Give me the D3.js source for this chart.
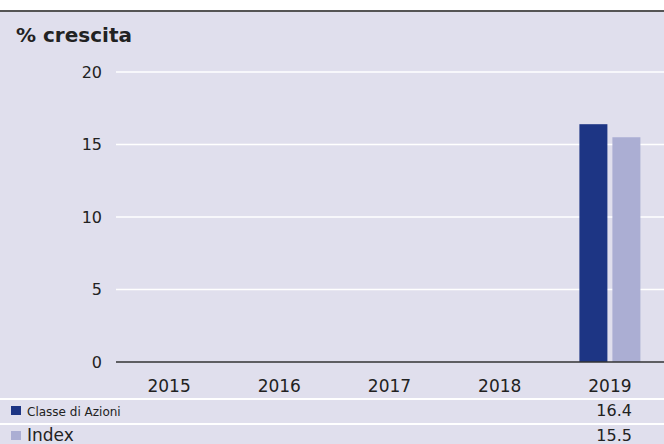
<!DOCTYPE html>
<html lang="it">
<head>
<meta charset="UTF-8">
<title>% crescita</title>
<style>
    body { margin: 0; background: #ffffff; font-family: "DejaVu Sans", Verdana, sans-serif; }
    svg { display: block; }
</style>
</head>
<body>
<svg width="664" height="444"></svg>
<script src="https://d3js.org/d3.v7.min.js"></script>
<script>
// dati
const years = ["2015", "2016", "2017", "2018", "2019"];
const classeValues = [null, null, null, null, 16.4];
const indexValues = [null, null, null, null, 15.5];
const seriesNames = ["Classe di Azioni", "Index"];
const seriesColors = ["#1d3584", "#abaed3"];
const yTicks = [0, 5, 10, 15, 20];

const W = 664, H = 444;
const svg = d3.select("svg");

// sfondo e bordo superiore
svg.append("rect").attr("x", 0).attr("y", 12).attr("width", W).attr("height", H - 12).attr("fill", "#e0dfed");
svg.append("line").attr("x1", 0).attr("x2", W).attr("y1", 11).attr("y2", 11)
    .attr("stroke", "#555").attr("stroke-width", 2);

svg.append("text").attr("x", 16).attr("y", 42)
    .attr("font-size", 20).attr("font-weight", "bold").attr("fill", "#222")
    .text("% crescita");

// scale
const x = d3.scaleBand().domain(years).range([114, 665]);
const y = d3.scaleLinear().domain([0, 20]).range([362, 72]);

// griglia
svg.append("g").selectAll("line").data(yTicks.filter(d => d > 0)).join("line")
    .attr("x1", 116).attr("x2", W)
    .attr("y1", d => y(d)).attr("y2", d => y(d))
    .attr("stroke", "#ffffff").attr("stroke-width", 1.5);

// etichette asse y
svg.append("g").selectAll("text").data(yTicks).join("text")
    .attr("x", 102).attr("y", d => y(d)).attr("dy", "0.36em")
    .attr("text-anchor", "end").attr("font-size", 16).attr("fill", "#222")
    .text(d => d);

// barre
const barW = 28, gap = 5;
const series = [classeValues, indexValues];
series.forEach((vals, i) => {
    svg.append("g").selectAll("rect")
        .data(years.map((yr, j) => ({ yr, v: vals[j] })).filter(d => d.v != null))
        .join("rect")
        .attr("x", d => x(d.yr) + x.bandwidth() / 2 - barW - gap / 2 + i * (barW + gap))
        .attr("y", d => y(d.v))
        .attr("width", barW)
        .attr("height", d => y(0) - y(d.v))
        .attr("fill", seriesColors[i]);
});

// linea dello zero
svg.append("line").attr("x1", 116).attr("x2", W).attr("y1", y(0)).attr("y2", y(0))
    .attr("stroke", "#333").attr("stroke-width", 1.5);

// etichette asse x
svg.append("g").selectAll("text").data(years).join("text")
    .attr("x", d => x(d) + x.bandwidth() / 2).attr("y", 392)
    .attr("text-anchor", "middle").attr("font-size", 17).attr("fill", "#222")
    .text(d => d);

// tabella legenda
[399, 424].forEach(yy => {
    svg.append("line").attr("x1", 0).attr("x2", W).attr("y1", yy).attr("y2", yy)
        .attr("stroke", "#ffffff").attr("stroke-width", 2);
});
const rowBase = [416, 441];
const labelSizes = [12, 17];
series.forEach((vals, i) => {
    svg.append("rect").attr("x", 11).attr("y", rowBase[i] - 10).attr("width", 10).attr("height", 9)
        .attr("fill", seriesColors[i]);
    svg.append("text").attr("x", 27).attr("y", rowBase[i])
        .attr("font-size", labelSizes[i]).attr("fill", "#222").text(seriesNames[i]);
    vals.forEach((v, j) => {
        if (v == null) return;
        svg.append("text").attr("x", x(years[j]) + x.bandwidth() / 2 + 22).attr("y", rowBase[i])
            .attr("text-anchor", "end").attr("font-size", 16).attr("fill", "#222")
            .text(v.toFixed(1));
    });
});
</script>
</body>
</html>
